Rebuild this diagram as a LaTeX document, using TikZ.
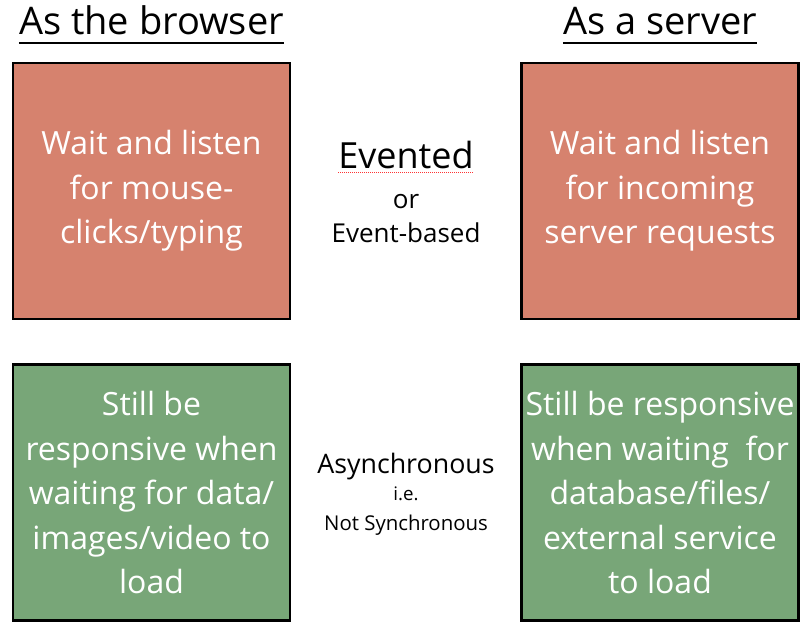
\documentclass[tikz,border=0pt]{standalone}
\usepackage{fontspec}
\setmainfont{Open Sans}
\usepackage{tikz}
\usetikzlibrary{positioning}
\definecolor{evred}{HTML}{D6826E}
\definecolor{asgreen}{HTML}{78A678}
\definecolor{edgeink}{HTML}{000000}
\tikzset{
  card/.style={draw=edgeink, line width=2.5pt, minimum width=277pt, minimum height=256pt, inner sep=0pt,
    align=center, text=white, font=\fontsize{32}{44.5}\selectfont},
  hot/.style={card, fill=evred},
  calm/.style={card, fill=asgreen},
  head/.style={anchor=base, inner sep=0pt, font=\fontsize{38}{44}\selectfont},
  mid/.style={anchor=base, inner sep=0pt},
  uline/.style={line width=2pt},
}
\begin{document}
\begin{tikzpicture}[x=1pt, y=-1pt]
  \useasboundingbox[fill=white] (0,0) rectangle (810,635);
  % column headings
  \node[head] (hbrowser) at (151.5,34) {As the browser};
  \node[head] (hserver) at (660,34) {As a server};
  \draw[uline] ([yshift=-9pt]hbrowser.base west) -- ([yshift=-9pt]hbrowser.base east);
  \draw[uline] ([yshift=-9pt]hserver.base west) -- ([yshift=-9pt]hserver.base east);
  % boxes
  \node[hot] (bwait) at (151.5,191) {Wait and listen\\for mouse-\\clicks/typing};
  \node[hot] (swait) at (660,191) {Wait and listen\\for incoming\\server requests};
  \node[calm] (bload) at (151.5,492.5) {Still be\\responsive when\\waiting for data/\\images/video to\\load};
  \node[calm] (sload) at (660,492.5) {Still be responsive\\when waiting\ \ for\\database/files/\\external service\\to load};
  % middle labels
  \node[mid, font=\fontsize{36}{40}\selectfont] (evented) at (406,168) {Evented};
  \draw[red!80, densely dotted, line width=1pt] ([yshift=-4pt]evented.base west) -- ([yshift=-4pt]evented.base east);
  \node[mid, font=\fontsize{26}{30}\selectfont] (evor) at (406,208) {or};
  \node[mid, font=\fontsize{26}{30}\selectfont] (evbased) at (406,242) {Event-based};
  \node[mid, font=\fontsize{26.8}{30}\selectfont] (async) at (406,473) {Asynchronous};
  \node[mid, font=\fontsize{18.7}{20}\selectfont] (asie) at (406,500) {i.e.};
  \node[mid, font=\fontsize{20.4}{24}\selectfont] (asnot) at (406,530) {Not Synchronous};
\end{tikzpicture}
\end{document}
